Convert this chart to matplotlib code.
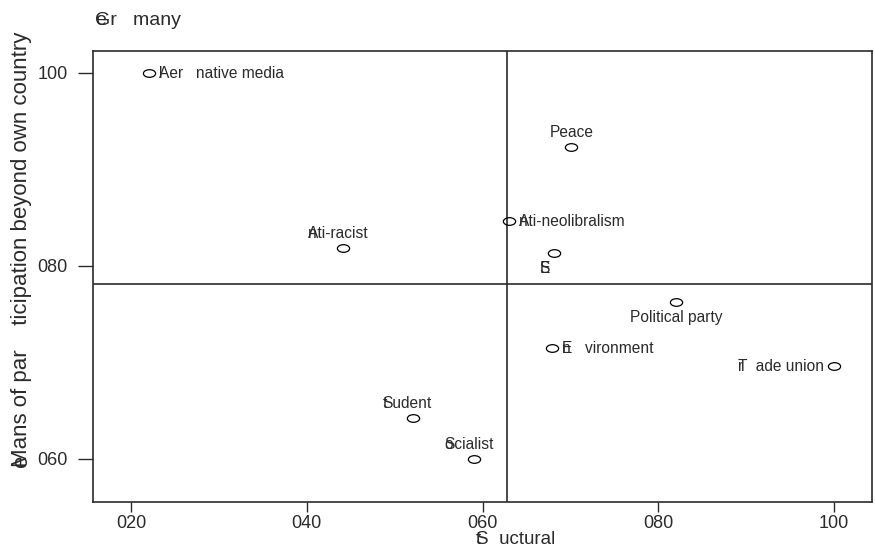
import matplotlib
matplotlib.use("Agg")
import matplotlib.pyplot as plt
import numpy as np
from matplotlib.path import Path
from matplotlib.transforms import Affine2D

plt.rcParams['font.family'] = ['Liberation Sans', 'DejaVu Sans']

# ---------------- data ----------------
groups = ["Alternative media", "Peace", "Anti-neoliberalism", "Anti-racist", "ESF",
          "Political party", "Environment", "Trade union", "Student", "Socialist"]
structural = [22.0, 70.1, 63.0, 44.1, 68.1, 82.0, 67.9, 100.0, 52.1, 59.0]
beyond_country = [100.0, 92.3, 84.6, 81.8, 81.3, 76.2, 71.5, 69.6, 64.2, 60.0]

# labels as printed in the reference (with overlapping glyphs)
label_text = ["Aer   native media", "Peace", "Ati-neolibralism", "Ati-racist", "E",
              "Political party", "E   vironment", "T  ade union", "Sudent", "Scialist"]
label_overlay = ["l", "", "n", "n", "S", "", "n", "r", "t", "o"]
label_side = ["right", "above", "right", "above", "below",
              "below", "right", "left", "above", "above"]

xticks = [20, 40, 60, 80, 100]
xtick_labels = ["020", "040", "060", "080", "100"]
yticks = [60, 80, 100]
ytick_labels = ["060", "080", "100"]

title_text, title_overlay = "Gr   many", "e"
xlabel_text, xlabel_overlay = "S  uctural", "t"
ylabel_text, ylabel_overlay = "Mans of par    ticipation beyond own country", "e"

# ---------------- style ----------------
label_dx = [0, 0, 0, -5, -9, 0, 0, 0, -6, -5]   # pixel nudges
INK = "#2b2b2b"
LBL_FS = 11.2
AX_FS = 13

W, H = 875, 548
fig = plt.figure(figsize=(W / 100, H / 100), dpi=100)
left, right, top, bottom = 93, 872, 51, 502
ax = fig.add_axes([left / W, 1 - bottom / H, (right - left) / W, (bottom - top) / H])

ax.set_xlim(15.68, 104.3)
ax.set_ylim(55.49, 102.28)

ell = Path.unit_circle().transformed(Affine2D().scale(1.6, 1.0))
ax.plot(structural, beyond_country, linestyle="none", marker=ell, markersize=8.8,
        markerfacecolor="none", markeredgecolor="black", markeredgewidth=0.9, zorder=3)

ax.axvline(np.mean(structural), color=INK, lw=1.2, zorder=1)
ax.axhline(np.mean(beyond_country), color=INK, lw=1.2, zorder=1)


def put_label(x, y, base, over, side, dx):
    if side == "right":
        ha, off = "left", (10 + dx, -5)
    elif side == "left":
        ha, off = "right", (-10 + dx, -5)
    elif side == "above":
        ha, off = "center", (dx, 10)
    else:
        ha, off = "center", (dx, -20)
    t = ax.annotate(base, (x, y), xytext=off, textcoords="offset pixels",
                    ha=ha, va="baseline", fontsize=LBL_FS, color=INK)
    if over:
        ax.annotate(over, xy=(0, 0), xycoords=t, ha="left", va="bottom",
                    fontsize=LBL_FS, color=INK)


for x, y, b, o, s, d in zip(structural, beyond_country, label_text, label_overlay,
                            label_side, label_dx):
    put_label(x, y, b, o, s, d)

ax.set_xticks(xticks)
ax.set_xticklabels(xtick_labels)
ax.set_yticks(yticks)
ax.set_yticklabels(ytick_labels)
ax.tick_params(axis="both", direction="out", width=1.0, color=INK,
               labelsize=AX_FS, labelcolor=INK)
ax.tick_params(axis="x", length=7.5, pad=2)
ax.tick_params(axis="y", length=11, pad=7)
for sp in ax.spines.values():
    sp.set_color(INK)
    sp.set_linewidth(1.2)

# title
tt = fig.text(95 / W, 1 - 25 / H, title_text, ha="left", va="baseline",
              fontsize=14, color=INK)
ax.annotate(title_overlay, xy=(0, 0), xycoords=tt, ha="left", va="bottom",
            fontsize=14, color=INK, annotation_clip=False)

# x label
XL_FS = 13.5
xl = fig.text(476 / W, 1 - 544 / H, xlabel_text, ha="left", va="baseline",
              fontsize=XL_FS, color=INK)
ax.annotate(xlabel_overlay, xy=(0, 0), xycoords=xl, ha="left", va="bottom",
            fontsize=XL_FS, color=INK, annotation_clip=False)

# y label
YL_FS = 16
yl = fig.text(22 / W, 1 - 467 / H, ylabel_text, ha="center", va="bottom",
              rotation=90, fontsize=YL_FS, color=INK)
ax.annotate(ylabel_overlay, xy=(0, 0), xycoords=yl, ha="left", va="bottom",
            rotation=90, fontsize=YL_FS, color=INK, annotation_clip=False)

fig.savefig("out.png", dpi=100)
